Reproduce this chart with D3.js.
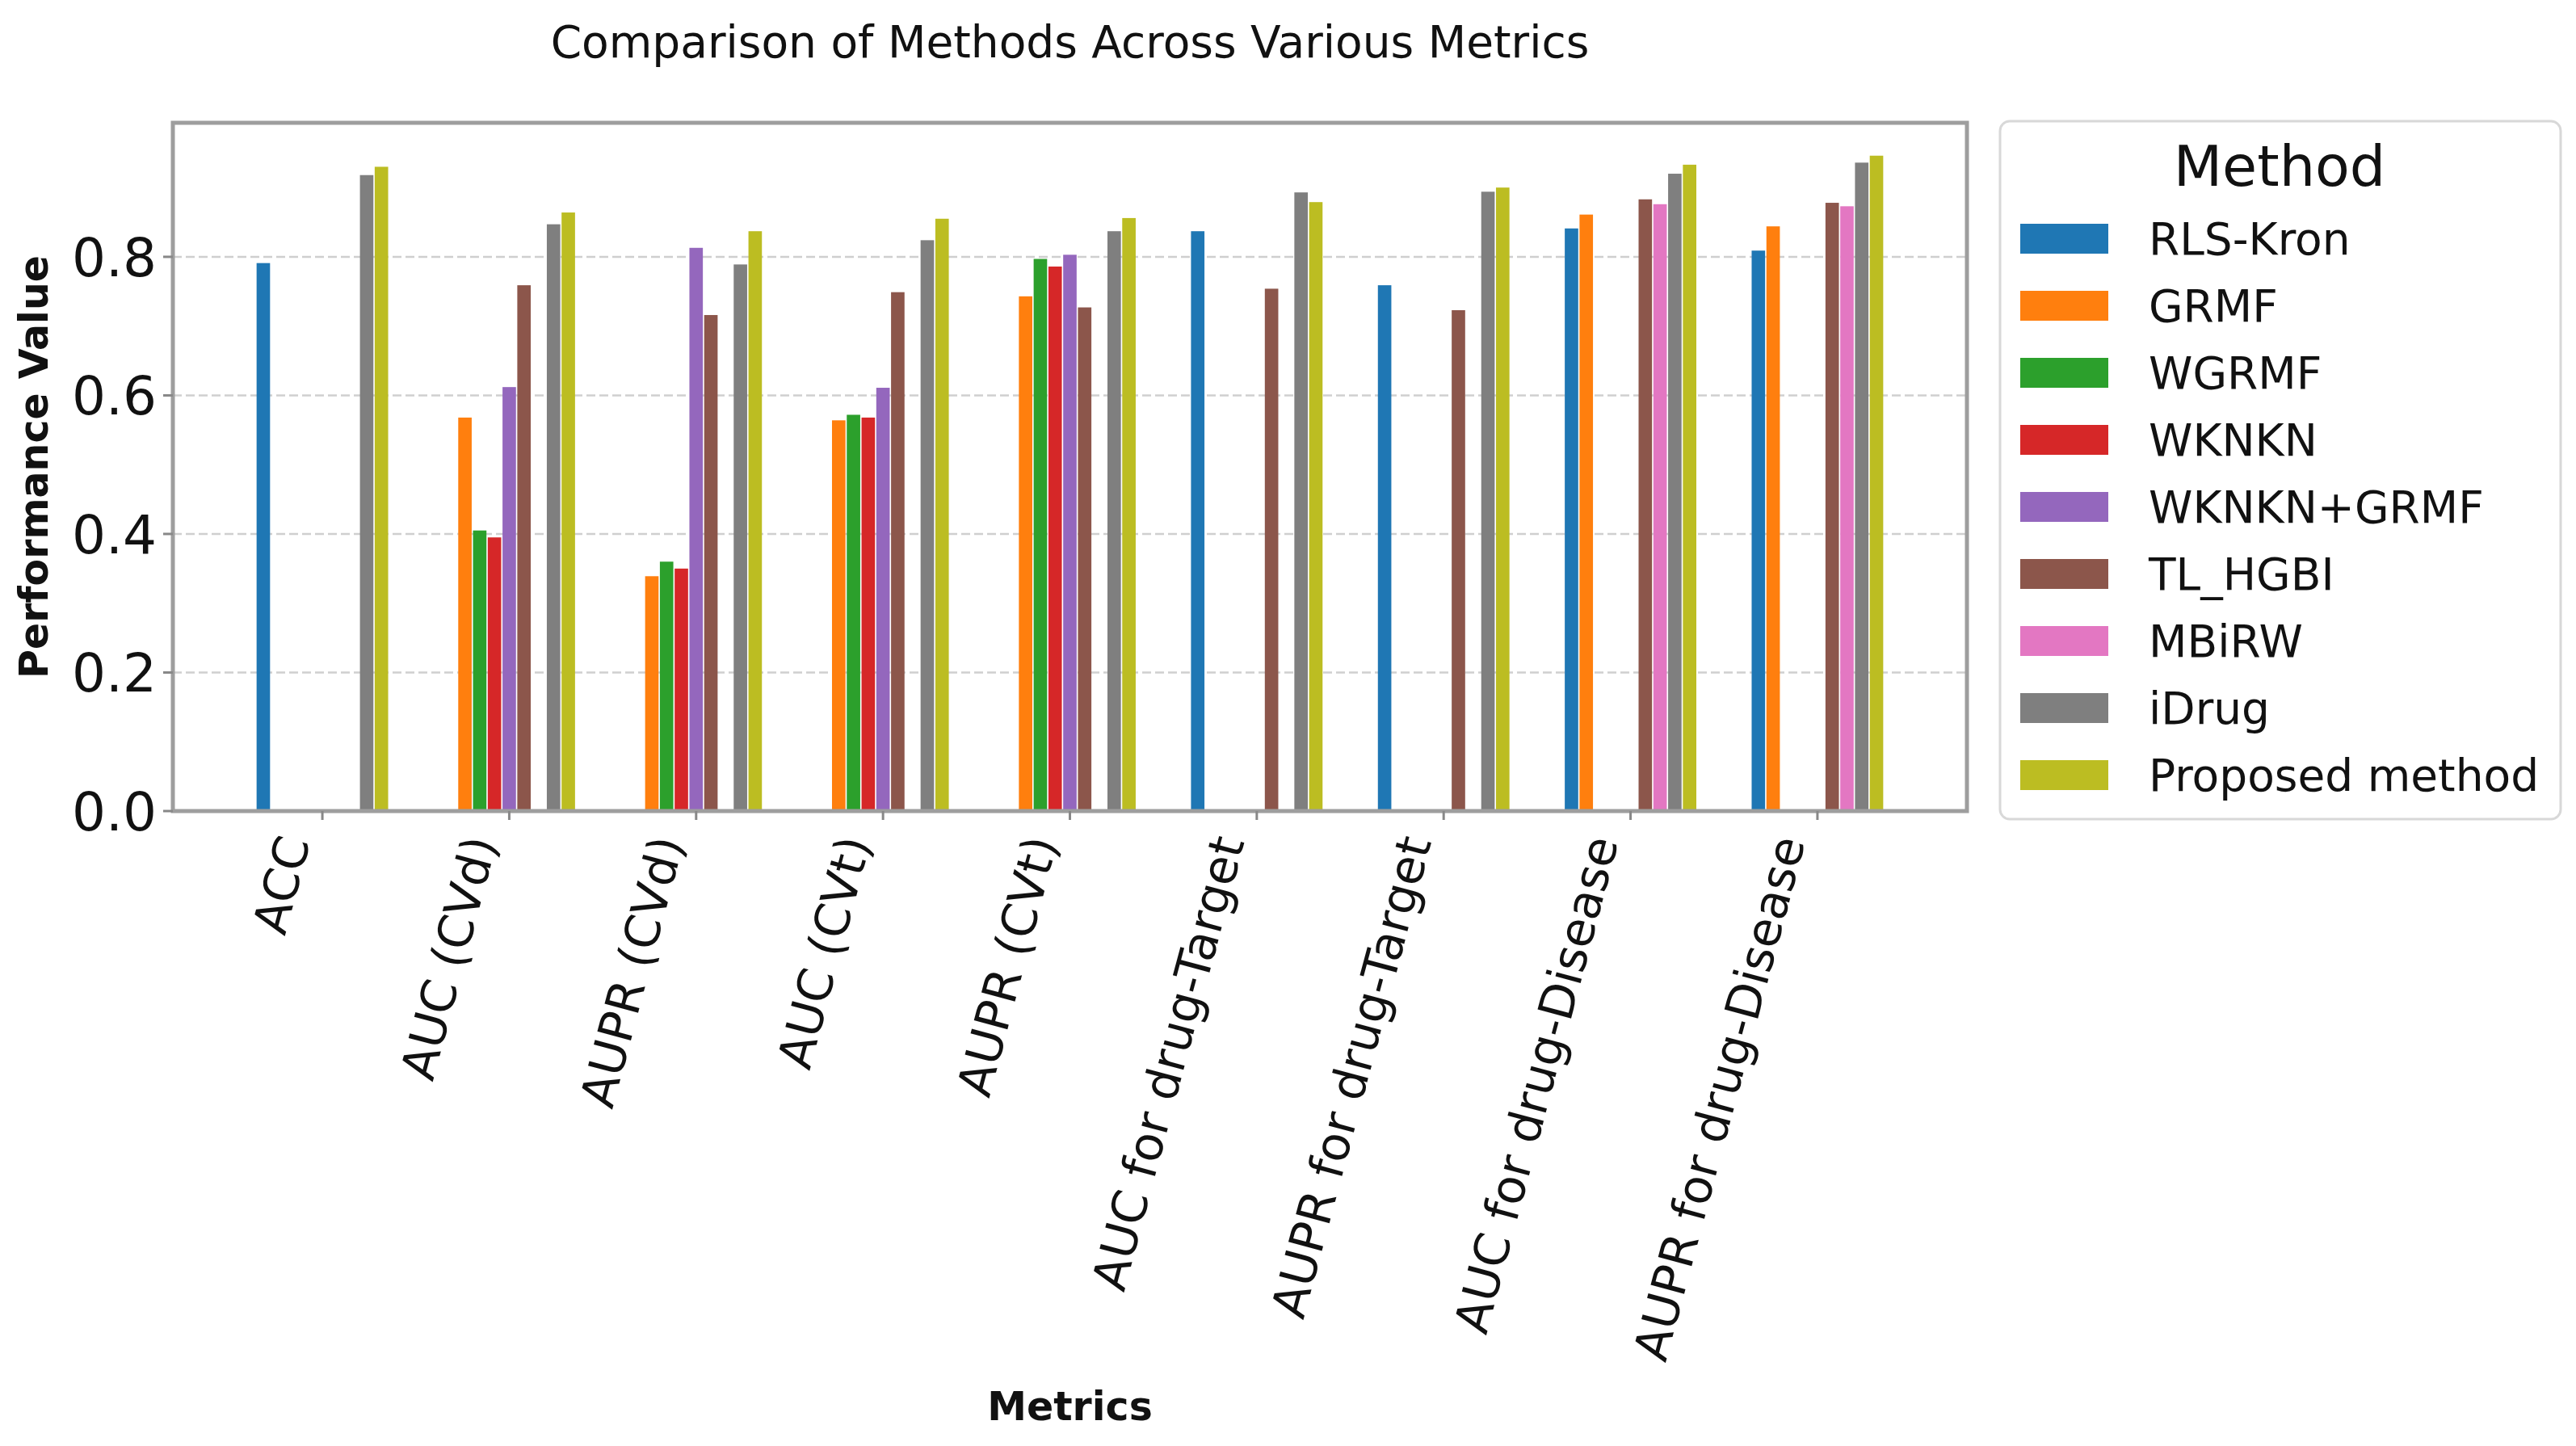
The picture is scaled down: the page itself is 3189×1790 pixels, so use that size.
<!DOCTYPE html>
<html>
<head>
<meta charset="utf-8">
<script src="https://cdn.jsdelivr.net/npm/d3@7"></script>
<style>
  body { margin: 0; background: #fff; }
  text { font-family: "DejaVu Sans", sans-serif; fill: #111; }
</style>
</head>
<body>
<svg id="chart" width="3189" height="1790"></svg>
<script>
// ---- data ----
var metrics = ["ACC", "AUC (CVd)", "AUPR (CVd)", "AUC (CVt)", "AUPR (CVt)",
  "AUC for drug-Target", "AUPR for drug-Target", "AUC for drug-Disease", "AUPR for drug-Disease"];

var methods = ["RLS-Kron", "GRMF", "WGRMF", "WKNKN", "WKNKN+GRMF", "TL_HGBI", "MBiRW", "iDrug", "Proposed method"];

var rlsKron  = [0.791, null, null, null, null, 0.837, 0.759, 0.841, 0.809];
var grmf     = [null, 0.568, 0.339, 0.564, 0.743, null, null, 0.861, 0.844];
var wgrmf    = [null, 0.405, 0.360, 0.572, 0.797, null, null, null, null];
var wknkn    = [null, 0.395, 0.350, 0.568, 0.786, null, null, null, null];
var wknknGrmf= [null, 0.612, 0.813, 0.611, 0.803, null, null, null, null];
var tlHgbi   = [null, 0.759, 0.716, 0.749, 0.727, 0.754, 0.723, 0.883, 0.878];
var mbirw    = [null, null, null, null, null, null, null, 0.876, 0.873];
var iDrug    = [0.918, 0.847, 0.789, 0.824, 0.837, 0.893, 0.894, 0.920, 0.936];
var proposed = [0.930, 0.864, 0.837, 0.855, 0.856, 0.879, 0.900, 0.933, 0.946];

var series = [rlsKron, grmf, wgrmf, wknkn, wknknGrmf, tlHgbi, mbirw, iDrug, proposed];
var yTicks = [0.0, 0.2, 0.4, 0.6, 0.8];

var colors = ["#1f77b4", "#ff7f0e", "#2ca02c", "#d62728", "#9467bd",
              "#8c564b", "#e377c2", "#7f7f7f", "#bcbd22"];

// ---- layout ----
var svg = d3.select("#chart");
var plotLeft = 214, plotRight = 2435, plotTop = 152, plotBottom = 1004;
var barStep = 0.079, barW = 0.072;

var x = d3.scaleLinear().domain([-0.8, metrics.length - 1 + 0.8]).range([plotLeft, plotRight]);
var y = d3.scaleLinear().domain([0, 0.9935]).range([plotBottom, plotTop]);
var color = d3.scaleOrdinal().domain(methods).range(colors);

svg.append("rect").attr("width", 3189).attr("height", 1790).attr("fill", "#fff");

// grid
svg.append("g").selectAll("line")
  .data(yTicks.filter(function(d) { return d > 0; }))
  .enter().append("line")
  .attr("x1", plotLeft).attr("x2", plotRight)
  .attr("y1", function(d) { return y(d); })
  .attr("y2", function(d) { return y(d); })
  .attr("stroke", "#cfcfcf")
  .attr("stroke-width", 2.5)
  .attr("stroke-dasharray", "11,5");

// bars
var bars = [];
series.forEach(function(vals, j) {
  vals.forEach(function(v, i) {
    if (v != null) bars.push({metric: i, method: methods[j], idx: j, value: v});
  });
});

svg.append("g").selectAll("rect")
  .data(bars)
  .enter().append("rect")
  .attr("x", function(d) { return x(d.metric + (d.idx - 4) * barStep - barW / 2); })
  .attr("width", x(barW) - x(0))
  .attr("y", function(d) { return y(d.value); })
  .attr("height", function(d) { return y(0) - y(d.value); })
  .attr("fill", function(d) { return color(d.method); });

// frame
svg.append("rect")
  .attr("x", plotLeft).attr("y", plotTop)
  .attr("width", plotRight - plotLeft).attr("height", plotBottom - plotTop)
  .attr("fill", "none")
  .attr("stroke", "#9e9e9e")
  .attr("stroke-width", 5);

// y axis ticks + labels
var yAxis = svg.append("g");
yAxis.selectAll("line")
  .data(yTicks).enter().append("line")
  .attr("x1", plotLeft - 12).attr("x2", plotLeft)
  .attr("y1", function(d) { return y(d); })
  .attr("y2", function(d) { return y(d); })
  .attr("stroke", "#888").attr("stroke-width", 3);
yAxis.selectAll("text")
  .data(yTicks).enter().append("text")
  .attr("x", 194)
  .attr("y", function(d) { return y(d); })
  .attr("dy", "0.36em")
  .attr("text-anchor", "end")
  .attr("font-size", 66)
  .text(function(d) { return d.toFixed(1); });

// x axis ticks + labels
var xAxis = svg.append("g");
xAxis.selectAll("line")
  .data(metrics).enter().append("line")
  .attr("x1", function(d, i) { return x(i); })
  .attr("x2", function(d, i) { return x(i); })
  .attr("y1", plotBottom).attr("y2", plotBottom + 11)
  .attr("stroke", "#888").attr("stroke-width", 3);
xAxis.selectAll("text")
  .data(metrics).enter().append("text")
  .attr("transform", function(d, i) { return "translate(" + (x(i) - 15) + "," + 1042 + ") rotate(-75)"; })
  .attr("text-anchor", "end")
  .attr("font-size", 59)
  .text(function(d) { return d; });

// titles
svg.append("text")
  .attr("x", (plotLeft + plotRight) / 2).attr("y", 71)
  .attr("text-anchor", "middle")
  .attr("font-size", 55)
  .text("Comparison of Methods Across Various Metrics");

svg.append("text")
  .attr("x", (plotLeft + plotRight) / 2).attr("y", 1758)
  .attr("text-anchor", "middle")
  .attr("font-size", 49)
  .attr("font-weight", "bold")
  .text("Metrics");

svg.append("text")
  .attr("transform", "translate(59," + ((plotTop + plotBottom) / 2) + ") rotate(-90)")
  .attr("text-anchor", "middle")
  .attr("font-size", 49)
  .attr("font-weight", "bold")
  .text("Performance Value");

// legend
var legend = svg.append("g");
legend.append("rect")
  .attr("x", 2476).attr("y", 150)
  .attr("width", 694).attr("height", 864)
  .attr("rx", 12)
  .attr("fill", "#fff")
  .attr("stroke", "#d8d8d8")
  .attr("stroke-width", 3);
legend.append("text")
  .attr("x", 2822).attr("y", 230)
  .attr("text-anchor", "middle")
  .attr("font-size", 70)
  .text("Method");
var items = legend.selectAll("g.item")
  .data(methods).enter().append("g")
  .attr("class", "item")
  .attr("transform", function(d, i) { return "translate(0," + (i * 83) + ")"; });
items.append("rect")
  .attr("x", 2501).attr("y", 277)
  .attr("width", 109).attr("height", 37)
  .attr("fill", function(d) { return color(d); });
items.append("text")
  .attr("x", 2660).attr("y", 315)
  .attr("font-size", 55)
  .text(function(d) { return d; });
</script>
</body>
</html>
